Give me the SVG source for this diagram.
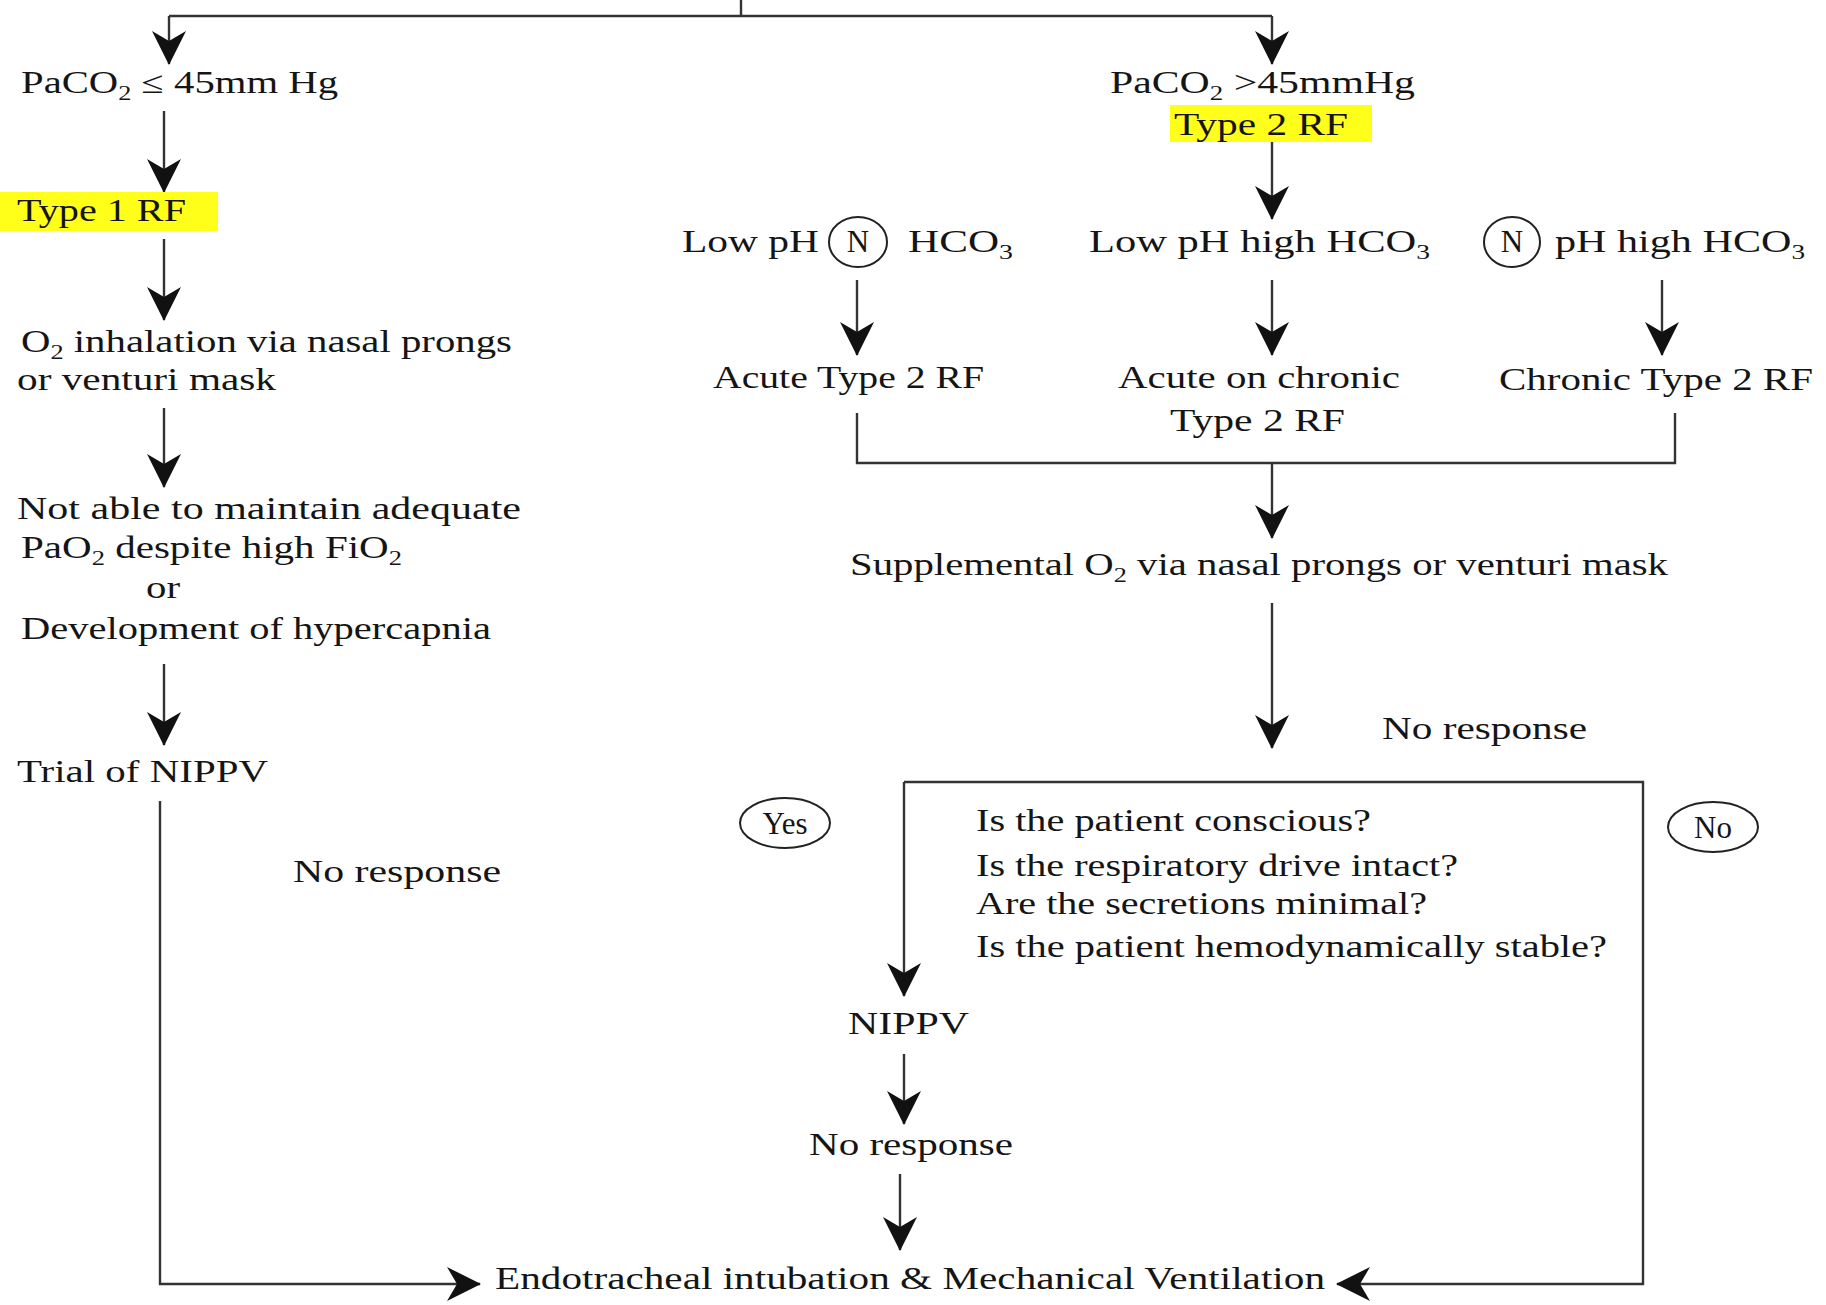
<svg xmlns="http://www.w3.org/2000/svg" width="1826" height="1305" viewBox="0 0 1826 1305">
<style>
.t{font-family:"Liberation Serif","Times New Roman",serif;font-size:31px;fill:#151515}
.c{fill:none;stroke:#333;stroke-width:2.4}
.a{marker-end:url(#arr)}
.hl{fill:#ffff1a}
.ov{fill:none;stroke:#222;stroke-width:2}
.sub{font-size:20px}
</style>
<defs>
<marker id="arr" viewBox="0 0 34 36" markerWidth="34" markerHeight="36" refX="33" refY="18" orient="auto" markerUnits="userSpaceOnUse">
<path d="M34,18 L0,1 L10,18 L0,35 Z" fill="#111"/>
</marker>
</defs>
<rect width="1826" height="1305" fill="#fff"/>
<g id="connectors">
<path class="c" d="M741,0 V16 M169,16 H1272"/>
<path class="c a" d="M169,16 V64"/>
<path class="c a" d="M1272,16 V64"/>
<path class="c a" d="M164,111 V192"/>
<path class="c a" d="M164,239 V320"/>
<path class="c a" d="M164,408 V487"/>
<path class="c a" d="M164,664 V745"/>
<path class="c a" d="M160,801 V1284 H480"/>
<path class="c a" d="M1272,142 V219"/>
<path class="c a" d="M857,280 V355"/>
<path class="c a" d="M1272,280 V355"/>
<path class="c a" d="M1662,280 V355"/>
<path class="c" d="M857,413 V463 H1675 V413"/>
<path class="c a" d="M1272,463 V538"/>
<path class="c a" d="M1272,603 V748"/>
<path class="c a" d="M904,782 V996"/>
<path class="c a" d="M904,782 H1643 V1284 H1337"/>
<path class="c a" d="M904,1054 V1124"/>
<path class="c a" d="M900,1174 V1250"/>
</g>
<g id="n-paco2-low"><text class="t" x="21" y="93" textLength="317" lengthAdjust="spacingAndGlyphs">PaCO<tspan class="sub" dy="7">2</tspan><tspan dy="-7"> ≤ 45mm Hg</tspan></text></g>
<g id="n-type1"><rect class="hl" x="0" y="192" width="218" height="39"/><text class="t" x="17" y="221" textLength="169" lengthAdjust="spacingAndGlyphs">Type 1 RF</text></g>
<g id="n-o2-inhalation"><text class="t" x="21" y="352" textLength="491" lengthAdjust="spacingAndGlyphs">O<tspan class="sub" dy="7">2</tspan><tspan dy="-7"> inhalation via nasal prongs</tspan></text><text class="t" x="17" y="390" textLength="259" lengthAdjust="spacingAndGlyphs">or venturi mask</text></g>
<g id="n-not-able"><text class="t" x="17" y="519" textLength="504" lengthAdjust="spacingAndGlyphs">Not able to maintain adequate</text><text class="t" x="21" y="558" textLength="381" lengthAdjust="spacingAndGlyphs">PaO<tspan class="sub" dy="7">2</tspan><tspan dy="-7"> despite high FiO</tspan><tspan class="sub" dy="7">2</tspan></text><text class="t" x="146" y="598" textLength="34" lengthAdjust="spacingAndGlyphs">or</text><text class="t" x="21" y="639" textLength="470" lengthAdjust="spacingAndGlyphs">Development of hypercapnia</text></g>
<g id="n-trial-nippv"><text class="t" x="17" y="782" textLength="251" lengthAdjust="spacingAndGlyphs">Trial of NIPPV</text></g>
<g id="l-no-response-left"><text class="t" x="293" y="882" textLength="208" lengthAdjust="spacingAndGlyphs">No response</text></g>
<g id="n-intubation"><text class="t" x="495" y="1289" textLength="830" lengthAdjust="spacingAndGlyphs">Endotracheal intubation &amp; Mechanical Ventilation</text></g>
<g id="n-paco2-high"><text class="t" x="1110" y="93" textLength="305" lengthAdjust="spacingAndGlyphs">PaCO<tspan class="sub" dy="7">2</tspan><tspan dy="-7"> &gt;45mmHg</tspan></text></g>
<g id="n-type2"><rect class="hl" x="1170" y="105" width="202" height="37"/><text class="t" x="1174" y="135" textLength="174" lengthAdjust="spacingAndGlyphs">Type 2 RF</text></g>
<g id="n-low-ph-n-hco3"><text class="t" x="682" y="252" textLength="137" lengthAdjust="spacingAndGlyphs">Low pH</text><ellipse class="ov" cx="858" cy="242" rx="29" ry="25"/><text class="t" x="858" y="252" text-anchor="middle">N</text><text class="t" x="908" y="252" textLength="105" lengthAdjust="spacingAndGlyphs">HCO<tspan class="sub" dy="7">3</tspan></text></g>
<g id="n-low-ph-high-hco3"><text class="t" x="1089" y="252" textLength="341" lengthAdjust="spacingAndGlyphs">Low pH high HCO<tspan class="sub" dy="7">3</tspan></text></g>
<g id="n-n-ph-high-hco3"><ellipse class="ov" cx="1512" cy="242" rx="28" ry="25"/><text class="t" x="1512" y="252" text-anchor="middle">N</text><text class="t" x="1555" y="252" textLength="250" lengthAdjust="spacingAndGlyphs">pH high HCO<tspan class="sub" dy="7">3</tspan></text></g>
<g id="n-acute"><text class="t" x="713" y="388" textLength="271" lengthAdjust="spacingAndGlyphs">Acute Type 2 RF</text></g>
<g id="n-acute-on-chronic"><text class="t" x="1118" y="388" textLength="282" lengthAdjust="spacingAndGlyphs">Acute on chronic</text><text class="t" x="1170" y="431" textLength="175" lengthAdjust="spacingAndGlyphs">Type 2 RF</text></g>
<g id="n-chronic"><text class="t" x="1499" y="390" textLength="314" lengthAdjust="spacingAndGlyphs">Chronic Type 2 RF</text></g>
<g id="n-supplemental"><text class="t" x="850" y="575" textLength="818" lengthAdjust="spacingAndGlyphs">Supplemental O<tspan class="sub" dy="7">2</tspan><tspan dy="-7"> via nasal prongs or venturi mask</tspan></text></g>
<g id="l-no-response-right"><text class="t" x="1382" y="739" textLength="205" lengthAdjust="spacingAndGlyphs">No response</text></g>
<g id="n-questions">
<text class="t" x="976" y="831" textLength="395" lengthAdjust="spacingAndGlyphs">Is the patient conscious?</text>
<text class="t" x="976" y="876" textLength="482" lengthAdjust="spacingAndGlyphs">Is the respiratory drive intact?</text>
<text class="t" x="976" y="914" textLength="451" lengthAdjust="spacingAndGlyphs">Are the secretions minimal?</text>
<text class="t" x="976" y="957" textLength="631" lengthAdjust="spacingAndGlyphs">Is the patient hemodynamically stable?</text>
</g>
<g id="l-yes"><ellipse class="ov" cx="785" cy="823" rx="45" ry="25"/><text class="t" x="785" y="834" text-anchor="middle">Yes</text></g>
<g id="l-no"><ellipse class="ov" cx="1713" cy="827" rx="45" ry="25"/><text class="t" x="1713" y="838" text-anchor="middle">No</text></g>
<g id="n-nippv"><text class="t" x="848" y="1034" textLength="121" lengthAdjust="spacingAndGlyphs">NIPPV</text></g>
<g id="n-no-response-nippv"><text class="t" x="809" y="1155" textLength="204" lengthAdjust="spacingAndGlyphs">No response</text></g>
</svg>
